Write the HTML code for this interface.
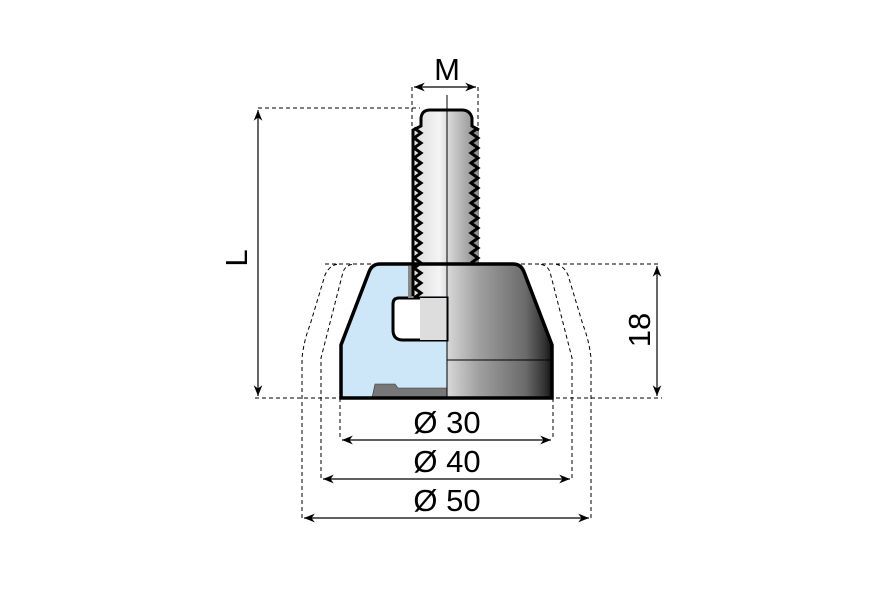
<!DOCTYPE html>
<html><head><style>body{margin:0;background:#fff}svg{display:block}</style></head><body>
<svg width="872" height="597" viewBox="0 0 872 597" xmlns="http://www.w3.org/2000/svg" font-family="Liberation Sans, sans-serif">
<defs>
<linearGradient id="g" x1="0" x2="1"><stop offset="0" stop-color="#d8d8d8"/><stop offset="0.3" stop-color="#a0a0a0"/><stop offset="0.75" stop-color="#6a6a6a"/><stop offset="0.93" stop-color="#333"/><stop offset="1" stop-color="#111"/></linearGradient>
<linearGradient id="b" x1="0" x2="1"><stop offset="0" stop-color="#ddd"/><stop offset="0.4" stop-color="#f4f4f4"/><stop offset="0.6" stop-color="#ccc"/><stop offset="1" stop-color="#888"/></linearGradient>
<marker id="a" viewBox="0 0 10 10" refX="10" refY="5" markerWidth="9" markerHeight="9" orient="auto-start-reverse"><path d="M0,1 L10,5 L0,9 L3,5z" fill="#000"/></marker>
</defs>
<g stroke="#000" stroke-width="1" stroke-dasharray="4,3" fill="none">
<line x1="258" y1="108" x2="420" y2="108"/>
<line x1="325" y1="264" x2="660" y2="264"/>
<line x1="255" y1="398" x2="662" y2="398"/>
<line x1="412" y1="87" x2="412" y2="130"/><line x1="478" y1="87" x2="478" y2="130"/>
<path d="M321,478 V358 L343,272 Q346,264 356,264"/><path d="M572,478 V358 L550,272 Q547,264 537,264"/>
<path d="M302,518 V358 Q304,340 310,325 L325,275 Q330,264 340,264"/><path d="M591,518 V358 Q589,340 583,325 L568,275 Q563,264 553,264"/>
<line x1="340" y1="398" x2="340" y2="440"/><line x1="553" y1="398" x2="553" y2="440"/>
</g>
<path d="M447,264 H380 Q372,264 369,272 L341,345 V398 H447Z" fill="#cde6f8"/>
<path d="M447,264 H513 Q521,264 524,272 L552,345 V398 H447Z" fill="url(#g)"/>
<line x1="447" y1="360" x2="552" y2="360" stroke="#000"/>
<path d="M372,398 L375,384 H395 L398,388 H447 V398Z" fill="#777" stroke="#333" stroke-width="0.6"/>
<path d="M447,298 H399 Q393,298 393,304 V330 Q393,340 403,340 H447Z" fill="#fff" stroke="#000" stroke-width="3"/>
<rect x="408" y="266" width="6" height="32" fill="#888"/>
<rect x="420" y="298" width="27" height="42" fill="#ddd"/>
<path d="M413,296 V130 L420,126 V118 Q422,110 430,110 H462 Q470,110 472,118 V126 L479,130 V266 H447 V296Z" fill="url(#b)"/>
<path d="M413,296 V130 l8,-4 V118 Q422,110 430,110 H462 Q470,110 472,118 V126 l7,4" fill="none" stroke="#000" stroke-width="3"/>
<path d="M414,128 l7,5 l-7,5 l7,5 l-7,5 l7,5 l-7,5 l7,5 l-7,5 l7,5 l-7,5 l7,5 l-7,5 l7,5 l-7,5 l7,5 l-7,5 l7,5 l-7,5 l7,5 l-7,5 l7,5 l-7,5 l7,5 l-7,5 l7,5 l-7,5 l7,5 l-7,5 l7,5 l-7,5 l7,5 l-7,5 l7,5 l-7,5" fill="none" stroke="#000" stroke-width="3"/>
<path d="M478,128 l-7,5 l7,5 l-7,5 l7,5 l-7,5 l7,5 l-7,5 l7,5 l-7,5 l7,5 l-7,5 l7,5 l-7,5 l7,5 l-7,5 l7,5 l-7,5 l7,5 l-7,5 l7,5 l-7,5 l7,5 l-7,5 l7,5 l-7,5 l7,5 l-7,5" fill="none" stroke="#000" stroke-width="3"/>
<line x1="447" y1="95" x2="447" y2="398" stroke="#000" stroke-width="1"/>
<path d="M341,398 V345 L369,272 Q372,264 380,264 H513 Q521,264 524,272 L552,345 V398Z" fill="none" stroke="#000" stroke-width="3.5"/>
<g stroke="#000" stroke-width="1.2" marker-start="url(#a)" marker-end="url(#a)">
<line x1="258" y1="110" x2="258" y2="396"/>
<line x1="657" y1="266" x2="657" y2="396"/>
<line x1="414" y1="87" x2="476" y2="87"/>
<line x1="342" y1="440" x2="551" y2="440"/>
<line x1="323" y1="479" x2="570" y2="479"/>
<line x1="304" y1="518" x2="589" y2="518"/>
</g>
<g font-size="31" text-anchor="middle" fill="#000">
<text x="447" y="80">M</text>
<text x="447" y="433">Ø 30</text>
<text x="447" y="472">Ø 40</text>
<text x="447" y="511">Ø 50</text>
<text transform="translate(247,258) rotate(-90)">L</text>
<text transform="translate(650,330) rotate(-90)">18</text>
</g>
</svg>
</body></html>
